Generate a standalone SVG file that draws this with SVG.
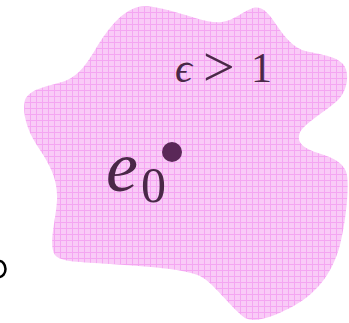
<svg xmlns="http://www.w3.org/2000/svg" width="349" height="323" viewBox="0 0 349 323">
<defs>
<pattern id="grid" width="6" height="6" patternUnits="userSpaceOnUse">
<rect width="6" height="6" fill="#f9cbf7"/>
<path d="M0 0.5H6M0.5 0V6" stroke="#f4a6f2" stroke-width="1"/>
</pattern>
<style>
.lbl{font-family:"Liberation Serif",serif;fill:#4a2848}
</style>
</defs>
<rect width="349" height="323" fill="#ffffff"/>
<g id="region">
<path d="M25,100 C22,112 26,130 40,150 C50,165 58,180 57,200 C56,220 48,245 55,255 C60,262 80,262 110,264 C150,267 180,268 200,276 C215,284 228,305 245,318 C255,323 270,318 290,308 C315,295 332,275 340,245 C346,220 349,190 347,175 C345,164 335,158 318,153 C302,148 296,142 300,132 C306,122 325,112 338,100 C348,90 350,72 343,64 C335,55 315,54 302,50 C290,45 282,33 273,20 C266,10 260,6 253,8 C243,11 235,20 222,22 C210,24 190,16 175,12 C160,8 148,5 138,7 C120,12 108,30 98,45 C88,62 80,75 65,81 C50,86 30,88 25,100 Z" fill="url(#grid)"/>
</g>
<g id="label-eps">
<text class="lbl" y="82" font-size="42"><tspan x="175" font-style="italic">ϵ</tspan><tspan x="203" font-size="56" dy="4">&gt;</tspan><tspan x="251" dy="-4">1</tspan></text>
</g>
<g id="charge">
<circle cx="172" cy="152" r="10" fill="#5a2858"/>
<text class="lbl" x="106" y="191" font-size="72" font-style="italic">e</text>
<text class="lbl" x="141" y="202" font-size="50">0</text>
</g>
<g id="edge-o">
<ellipse cx="-1" cy="269" rx="6.5" ry="8" fill="none" stroke="#000" stroke-width="2.5"/>
</g>
</svg>
